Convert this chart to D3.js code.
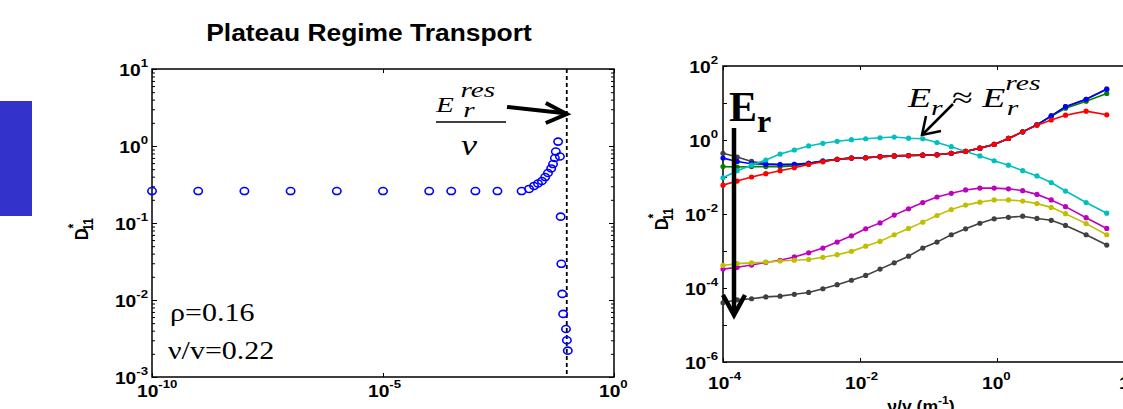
<!DOCTYPE html>
<html><head><meta charset="utf-8">
<script src="https://cdn.jsdelivr.net/npm/d3@7"></script>
<style>body{margin:0;background:#fff}svg{display:block}</style>
</head><body>
<svg id="c" width="1123" height="409"></svg>
<script>
// ---------- DATA ----------
// Left panel: plateau regime transport, D*11 vs nu/v
const leftNu = [1e-10,1e-9,1e-8,1e-7,1e-6,1e-5,1e-4,3e-4,1e-3,3e-3,1e-2,
  0.0145,0.0186,0.0226,0.0275,0.0324,0.0372,0.0437,0.0479,0.0525,0.0676,0.055,0.0617,
  0.0701,0.0724,0.0759,0.0794,0.0912,0.0955,0.1];
const leftD = [0.26,0.26,0.26,0.26,0.26,0.26,0.26,0.26,0.26,0.26,0.26,
  0.277,0.303,0.326,0.351,0.395,0.446,0.511,0.583,0.698,0.731,0.849,1.14,
  0.121,0.0295,0.012,0.0066,0.0042,0.0030,0.0022];
const leftRes = 0.095;
const leftXTicks = [1e-10,1e-5,1];
const leftYTicks = [1e-3,1e-2,1e-1,1,10];

// Right panel: D*11 vs nu/v (m^-1), several E_r values
const rightNu = [1.0e-4,1.61e-4,2.61e-4,4.22e-4,6.81e-4,1.10e-3,1.78e-3,2.87e-3,4.64e-3,7.50e-3,
  1.21e-2,1.96e-2,3.16e-2,5.11e-2,8.25e-2,0.133,0.215,0.348,0.562,0.909,1.47,2.37,3.83,6.19,10,20,40];
const sGrayTop = [0.437,0.347,0.263,0.229,0.219,0.219,0.234,0.269,0.302,0.324,0.331,0.355,0.372,0.380,0.389,0.398,0.437,0.490,0.603,0.759,1.10,1.66,2.57,4.47,7.94,12.6,24.0];
const sBlue    = [0.324,0.263,0.229,0.219,0.214,0.219,0.234,0.269,0.302,0.324,0.331,0.355,0.372,0.380,0.389,0.398,0.437,0.490,0.603,0.759,1.10,1.66,2.57,4.47,7.94,12.6,23.4];
const sGreen   = [0.191,0.186,0.191,0.191,0.191,0.200,0.234,0.269,0.302,0.324,0.331,0.355,0.372,0.380,0.389,0.398,0.437,0.490,0.603,0.759,1.10,1.66,2.57,4.37,7.24,11.2,18.2];
const sRed     = [0.0603,0.0776,0.100,0.123,0.148,0.178,0.219,0.257,0.302,0.324,0.331,0.355,0.372,0.380,0.389,0.398,0.437,0.490,0.603,0.759,1.10,1.66,2.51,3.47,4.68,6.03,4.79];
const sCyan    = [0.0955,0.148,0.209,0.288,0.417,0.537,0.692,0.813,0.923,1.02,1.08,1.15,1.20,1.12,1.08,0.851,0.661,0.490,0.372,0.275,0.209,0.148,0.107,0.0708,0.0417,0.0204,0.0105];
const sMagenta = [3.24e-4,3.63e-4,4.17e-4,4.90e-4,5.62e-4,6.92e-4,8.91e-4,1.20e-3,1.74e-3,2.57e-3,3.98e-3,5.75e-3,9.33e-3,1.38e-2,2.04e-2,2.88e-2,3.63e-2,4.47e-2,5.01e-2,5.01e-2,4.79e-2,4.27e-2,3.39e-2,2.40e-2,1.58e-2,7.94e-3,4.07e-3];
const sYellow  = [4.07e-4,4.57e-4,4.79e-4,5.01e-4,5.37e-4,5.62e-4,5.89e-4,6.76e-4,7.94e-4,9.77e-4,1.35e-3,1.82e-3,2.75e-3,4.07e-3,6.03e-3,9.12e-3,1.32e-2,1.74e-2,2.09e-2,2.40e-2,2.40e-2,2.24e-2,1.91e-2,1.51e-2,1.02e-2,5.50e-3,2.75e-3];
const sGrayLow = [3.98e-5,4.79e-5,5.13e-5,5.75e-5,6.03e-5,6.76e-5,7.59e-5,9.55e-5,1.23e-4,1.62e-4,2.19e-4,3.24e-4,4.79e-4,7.24e-4,1.20e-3,1.74e-3,2.75e-3,3.98e-3,5.62e-3,7.41e-3,8.13e-3,8.71e-3,7.59e-3,6.76e-3,4.90e-3,2.75e-3,1.45e-3];
const rightSeries = [
  {name:"grayTop", values:sGrayTop, color:"#404040"},
  {name:"green", values:sGreen, color:"#008000"},
  {name:"blue", values:sBlue, color:"#0000ff"},
  {name:"cyan", values:sCyan, color:"#00bfbf"},
  {name:"red", values:sRed, color:"#ff0000"},
  {name:"magenta", values:sMagenta, color:"#bf00bf"},
  {name:"yellow", values:sYellow, color:"#bfbf00"},
  {name:"grayLow", values:sGrayLow, color:"#404040"}
];
const rightXTicks = [1e-4,1e-2,1,1e2];
const rightYTicks = [1e-6,1e-4,1e-2,1,1e2];

// ---------- DRAW ----------
const svg = d3.select("#c");
const SANS = "'Liberation Sans', Arial, sans-serif";
const SERIF = "'Liberation Serif', 'Times New Roman', serif";

function label(x, y, o) {
  const t = svg.append("text")
    .attr("transform", `translate(${x},${y}) ${o.rot ? "rotate(" + o.rot + ")" : ""} scale(${o.sx||1},${o.sy||1})`)
    .attr("font-family", o.family || SANS)
    .attr("font-size", o.size)
    .attr("font-weight", o.weight || "normal")
    .attr("font-style", o.style || "normal")
    .attr("text-anchor", o.anchor || "start")
    .attr("fill", o.fill || "#000");
  (o.parts || [[o.text]]).forEach(p => {
    const s = t.append("tspan").text(p[0]);
    if (p[1]) for (const k in p[1]) s.attr(k, p[1][k]);
  });
  return t;
}
const expOf = v => String(Math.round(Math.log10(v)));

// blue rectangle at left edge
svg.append("rect").attr("x",0).attr("y",101).attr("width",32).attr("height",115).attr("fill","#3333cc");

// ===== Left panel =====
const xL = d3.scaleLog().domain([1e-10, 1]).range([152, 614]);
const yL = d3.scaleLog().domain([1e-3, 10]).range([377, 69]);

const gL = svg.append("g");
const minorL = [];
for (let d = -3; d < 1; d++) for (let k = 2; k <= 9; k++) minorL.push(k * Math.pow(10, d));
gL.append("g").attr("transform","translate(152,0)")
  .call(d3.axisRight(yL).tickValues(minorL).tickSize(3).tickFormat(""));
gL.append("g").attr("transform","translate(152,0)")
  .call(d3.axisRight(yL).tickValues(leftYTicks).tickSize(5).tickFormat(""));
gL.append("g").attr("transform","translate(614,0)")
  .call(d3.axisLeft(yL).tickValues(minorL).tickSize(3).tickFormat(""));
gL.append("g").attr("transform","translate(614,0)")
  .call(d3.axisLeft(yL).tickValues(leftYTicks).tickSize(5).tickFormat(""));
gL.append("g").attr("transform","translate(0,377)")
  .call(d3.axisTop(xL).tickValues(leftXTicks).tickSize(4).tickFormat(""));
gL.append("g").attr("transform","translate(0,69)")
  .call(d3.axisBottom(xL).tickValues(leftXTicks).tickSize(4).tickFormat(""));
gL.selectAll(".domain").remove();
gL.selectAll(".tick line").attr("stroke","#000").attr("stroke-width",1);
gL.append("rect").attr("x",152).attr("y",69).attr("width",614-152).attr("height",377-69)
  .attr("fill","none").attr("stroke","#000").attr("stroke-width",1.5);

leftYTicks.forEach(v => label(148, yL(v) + 7, {anchor:"end", size:16, weight:"bold", sx:1.2,
  parts:[["10"],[expOf(v), {dy:-9, "font-size":11}]]}));
leftXTicks.forEach(v => label(xL(v) - 15, 397, {size:16, weight:"bold", sx:1.2,
  parts:[["10"],[expOf(v), {dy:-9, "font-size":11}]]}));

gL.append("line").attr("x1", xL(leftRes)).attr("x2", xL(leftRes)).attr("y1", 69).attr("y2", 377)
  .attr("stroke","#000").attr("stroke-width",1.8).attr("stroke-dasharray","4,3");

gL.selectAll("ellipse.pt").data(leftNu.map((n,i)=>[n,leftD[i]])).enter().append("ellipse")
  .attr("cx", d => xL(d[0])).attr("cy", d => yL(d[1])).attr("rx",4.2).attr("ry",3.5)
  .attr("fill","none").attr("stroke","#0000ff").attr("stroke-width",1.6);

label(369, 41, {anchor:"middle", size:24, weight:"bold", sx:1.1, text:"Plateau Regime Transport"});
label(88, 240, {rot:-90, sy:1.2, size:16, weight:"bold",
  parts:[["D"],["*", {dy:-8, "font-size":12}],["11", {dx:-7, dy:12, "font-size":12}]]});
label(170, 321, {family:SERIF, size:25, sx:1.2, text:"ρ=0.16"});
label(168, 359, {family:SERIF, size:25, sx:1.2, text:"ν/v=0.22"});
// fraction annotation
label(436, 112, {family:SERIF, size:22, style:"italic", sx:1.33,
  parts:[["E"],["res", {dx:5, dy:-15}],["r", {dx:-24, dy:20}]]});
gL.append("line").attr("x1",436).attr("x2",506).attr("y1",122).attr("y2",122).attr("stroke","#000").attr("stroke-width",1.5);
label(461, 155, {family:SERIF, size:30, style:"italic", sx:1.2, text:"ν"});
const tipX = xL(leftRes);
gL.append("line").attr("x1",507).attr("y1",107).attr("x2",tipX-4).attr("y2",113)
  .attr("stroke","#000").attr("stroke-width",4);
gL.append("polyline").attr("points",`${tipX-21},103 ${tipX},114 ${tipX-21},123`)
  .attr("fill","none").attr("stroke","#000").attr("stroke-width",4).attr("stroke-linejoin","miter");

// ===== Right panel =====
const xR = d3.scaleLog().domain([1e-4, 1e2]).range([723, 1134]);
const yR = d3.scaleLog().domain([1e-6, 1e2]).range([362, 66]);
const gR = svg.append("g");
const decR = d3.range(-6, 3).map(e => Math.pow(10, e));
gR.append("g").attr("transform","translate(723,0)")
  .call(d3.axisRight(yR).tickValues(decR).tickSize(4).tickFormat(""));
gR.append("g").attr("transform","translate(0,362)")
  .call(d3.axisTop(xR).tickValues(rightXTicks).tickSize(4).tickFormat(""));
gR.append("g").attr("transform","translate(0,66)")
  .call(d3.axisBottom(xR).tickValues(rightXTicks).tickSize(4).tickFormat(""));
gR.selectAll(".domain").remove();
gR.selectAll(".tick line").attr("stroke","#000").attr("stroke-width",1);
gR.append("rect").attr("x",723).attr("y",66).attr("width",1134-723).attr("height",362-66)
  .attr("fill","none").attr("stroke","#000").attr("stroke-width",1.5);

rightYTicks.forEach(v => label(718, yR(v) + 7, {anchor:"end", size:16, weight:"bold", sx:1.2,
  parts:[["10"],[expOf(v), {dy:-9, "font-size":11}]]}));
rightXTicks.forEach(v => label(xR(v) - 15, 389, {size:16, weight:"bold", sx:1.2,
  parts:[["10"],[expOf(v), {dy:-9, "font-size":11}]]}));

label(668, 230, {rot:-90, sy:1.2, size:16, weight:"bold",
  parts:[["D"],["*", {dy:-8, "font-size":12}],["11", {dx:-7, dy:12, "font-size":12}]]});
label(921, 412, {anchor:"middle", size:16, weight:"bold", sx:1.1,
  parts:[["ν/v (m"],["-1", {dy:-8, "font-size":11}],[")", {dy:8}]]});

const line = d3.line().x((d,i) => xR(rightNu[i])).y(d => yR(d));
rightSeries.forEach(s => {
  const g = gR.append("g");
  g.append("path").attr("d", line(s.values)).attr("fill","none").attr("stroke", s.color).attr("stroke-width",1.6);
  g.selectAll("circle").data(s.values).enter().append("circle")
    .attr("cx", (d,i) => xR(rightNu[i])).attr("cy", d => yR(d)).attr("r",2.6).attr("fill", s.color);
});

label(729, 121, {family:SERIF, size:42, weight:"bold", parts:[["E"],["r", {dy:11, "font-size":32}]]});
gR.append("line").attr("x1",734).attr("y1",128).attr("x2",734).attr("y2",312).attr("stroke","#000").attr("stroke-width",4.5);
gR.append("polyline").attr("points","723,295 734,315 745,295")
  .attr("fill","none").attr("stroke","#000").attr("stroke-width",4.5);

label(908, 107, {family:SERIF, size:28, style:"italic", sx:1.35,
  parts:[["E"],["r", {dy:8, "font-size":22}],[" ≈ ", {dy:-8, "font-style":"normal"}],["E"],["res", {dy:-17, "font-size":22}],["r", {dx:-25, dy:25, "font-size":22}]]});
gR.append("line").attr("x1",953).attr("y1",104).attr("x2",923).attr("y2",134).attr("stroke","#000").attr("stroke-width",2.5);
gR.append("polyline").attr("points","926,116 922,135 941,131")
  .attr("fill","none").attr("stroke","#000").attr("stroke-width",2.5);
</script>
</body></html>
